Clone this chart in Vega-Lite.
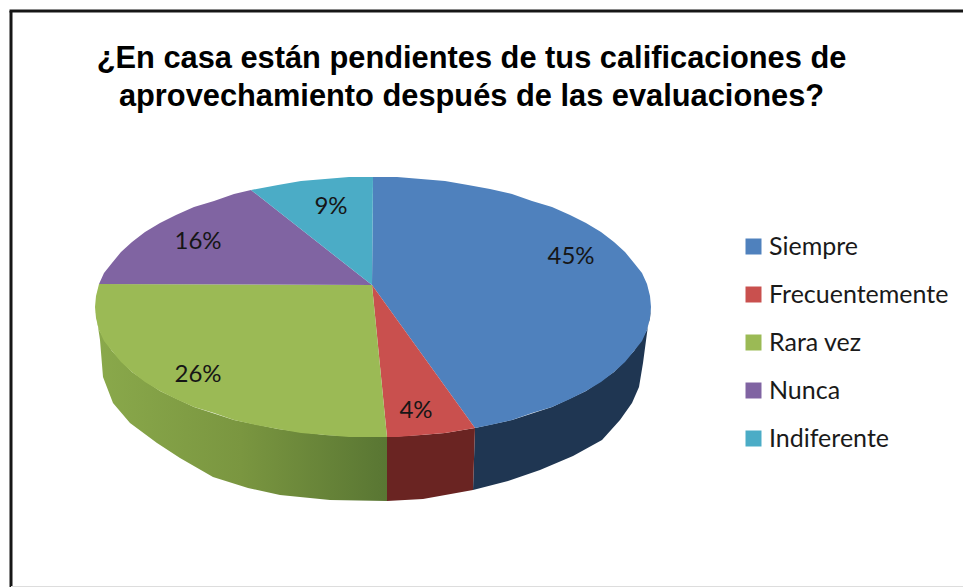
{"$schema":"https://vega.github.io/schema/vega-lite/v6.json","width":963,"height":587,"padding":0,"autosize":{"type":"none"},"background":"white","view":{"stroke":null},
"title":{"text":["¿En casa están pendientes de tus calificaciones de","aprovechamiento después de las evaluaciones?"],"font":"Liberation Sans","fontWeight":"bold","fontSize":30.8,"lineHeight":38.5,"color":"#000000","anchor":"middle","frame":"group","dx":-10,"dy":113,"offset":0},
"datasets":{
"faces":[
{"slice":"Siempre","order":1,"x":-1,"y":22},{"slice":"Siempre","order":2,"x":0,"y":130},{"slice":"Siempre","order":3,"x":24,"y":130},{"slice":"Siempre","order":4,"x":48,"y":128},{"slice":"Siempre","order":5,"x":72,"y":126},{"slice":"Siempre","order":6,"x":95,"y":122},{"slice":"Siempre","order":7,"x":117,"y":118},{"slice":"Siempre","order":8,"x":139,"y":113},{"slice":"Siempre","order":9,"x":159,"y":106},{"slice":"Siempre","order":10,"x":179,"y":100},{"slice":"Siempre","order":11,"x":197,"y":92},{"slice":"Siempre","order":12,"x":213,"y":84},{"slice":"Siempre","order":13,"x":228,"y":75},{"slice":"Siempre","order":14,"x":241,"y":65},{"slice":"Siempre","order":15,"x":252,"y":55},{"slice":"Siempre","order":16,"x":261,"y":44},{"slice":"Siempre","order":17,"x":269,"y":34},{"slice":"Siempre","order":18,"x":274,"y":23},{"slice":"Siempre","order":19,"x":277,"y":11},{"slice":"Siempre","order":20,"x":278,"y":0},{"slice":"Siempre","order":21,"x":277,"y":-11},{"slice":"Siempre","order":22,"x":274,"y":-23},{"slice":"Siempre","order":23,"x":269,"y":-34},{"slice":"Siempre","order":24,"x":261,"y":-44},{"slice":"Siempre","order":25,"x":252,"y":-55},{"slice":"Siempre","order":26,"x":241,"y":-65},{"slice":"Siempre","order":27,"x":228,"y":-75},{"slice":"Siempre","order":28,"x":213,"y":-84},{"slice":"Siempre","order":29,"x":197,"y":-92},{"slice":"Siempre","order":30,"x":179,"y":-100},{"slice":"Siempre","order":31,"x":159,"y":-106},{"slice":"Siempre","order":32,"x":139,"y":-113},{"slice":"Siempre","order":33,"x":117,"y":-118},{"slice":"Siempre","order":34,"x":102,"y":-121},
{"slice":"Frecuentemente","order":1,"x":-1,"y":22},{"slice":"Frecuentemente","order":2,"x":102,"y":-121},{"slice":"Frecuentemente","order":3,"x":72,"y":-126},{"slice":"Frecuentemente","order":4,"x":48,"y":-128},{"slice":"Frecuentemente","order":5,"x":24,"y":-130},{"slice":"Frecuentemente","order":6,"x":14,"y":-130},
{"slice":"Rara vez","order":1,"x":-1,"y":22},{"slice":"Rara vez","order":2,"x":14,"y":-130},{"slice":"Rara vez","order":3,"x":0,"y":-130},{"slice":"Rara vez","order":4,"x":-24,"y":-130},{"slice":"Rara vez","order":5,"x":-48,"y":-128},{"slice":"Rara vez","order":6,"x":-72,"y":-126},{"slice":"Rara vez","order":7,"x":-95,"y":-122},{"slice":"Rara vez","order":8,"x":-117,"y":-118},{"slice":"Rara vez","order":9,"x":-139,"y":-113},{"slice":"Rara vez","order":10,"x":-159,"y":-106},{"slice":"Rara vez","order":11,"x":-179,"y":-100},{"slice":"Rara vez","order":12,"x":-197,"y":-92},{"slice":"Rara vez","order":13,"x":-213,"y":-84},{"slice":"Rara vez","order":14,"x":-228,"y":-75},{"slice":"Rara vez","order":15,"x":-241,"y":-65},{"slice":"Rara vez","order":16,"x":-252,"y":-55},{"slice":"Rara vez","order":17,"x":-261,"y":-44},{"slice":"Rara vez","order":18,"x":-269,"y":-34},{"slice":"Rara vez","order":19,"x":-274,"y":-23},{"slice":"Rara vez","order":20,"x":-277,"y":-11},{"slice":"Rara vez","order":21,"x":-278,"y":0},{"slice":"Rara vez","order":22,"x":-277,"y":11},{"slice":"Rara vez","order":23,"x":-274,"y":23},
{"slice":"Nunca","order":1,"x":-1,"y":22},{"slice":"Nunca","order":2,"x":-274,"y":23},{"slice":"Nunca","order":3,"x":-269,"y":34},{"slice":"Nunca","order":4,"x":-261,"y":44},{"slice":"Nunca","order":5,"x":-252,"y":55},{"slice":"Nunca","order":6,"x":-241,"y":65},{"slice":"Nunca","order":7,"x":-228,"y":75},{"slice":"Nunca","order":8,"x":-213,"y":84},{"slice":"Nunca","order":9,"x":-197,"y":92},{"slice":"Nunca","order":10,"x":-179,"y":100},{"slice":"Nunca","order":11,"x":-159,"y":106},{"slice":"Nunca","order":12,"x":-139,"y":113},{"slice":"Nunca","order":13,"x":-122,"y":117},
{"slice":"Indiferente","order":1,"x":-1,"y":22},{"slice":"Indiferente","order":2,"x":-122,"y":117},{"slice":"Indiferente","order":3,"x":-95,"y":122},{"slice":"Indiferente","order":4,"x":-72,"y":126},{"slice":"Indiferente","order":5,"x":-48,"y":128},{"slice":"Indiferente","order":6,"x":-24,"y":130},{"slice":"Indiferente","order":7,"x":0,"y":130}
],
"walls":[
{"wall":"Siempre","order":1,"x":278,"y":0},{"wall":"Siempre","order":2,"x":277,"y":-11},{"wall":"Siempre","order":3,"x":274,"y":-23},{"wall":"Siempre","order":4,"x":261,"y":-44},{"wall":"Siempre","order":5,"x":241,"y":-65},{"wall":"Siempre","order":6,"x":213,"y":-84},{"wall":"Siempre","order":7,"x":179,"y":-100},{"wall":"Siempre","order":8,"x":139,"y":-113},{"wall":"Siempre","order":9,"x":102,"y":-121},{"wall":"Siempre","order":10,"x":100,"y":-183},{"wall":"Siempre","order":11,"x":135,"y":-174},{"wall":"Siempre","order":12,"x":167,"y":-163},{"wall":"Siempre","order":13,"x":200,"y":-149},{"wall":"Siempre","order":14,"x":229,"y":-133},{"wall":"Siempre","order":15,"x":247,"y":-113},{"wall":"Siempre","order":16,"x":259,"y":-96},{"wall":"Siempre","order":17,"x":266,"y":-80},{"wall":"Siempre","order":18,"x":270,"y":-56},{"wall":"Siempre","order":19,"x":274,"y":-26},
{"wall":"Frecuentemente","order":1,"x":102,"y":-121},{"wall":"Frecuentemente","order":2,"x":72,"y":-126},{"wall":"Frecuentemente","order":3,"x":48,"y":-128},{"wall":"Frecuentemente","order":4,"x":14,"y":-130},{"wall":"Frecuentemente","order":5,"x":14,"y":-194},{"wall":"Frecuentemente","order":6,"x":50,"y":-192},{"wall":"Frecuentemente","order":7,"x":100,"y":-183},
{"wall":"Rara vez","order":1,"x":14,"y":-130},{"wall":"Rara vez","order":2,"x":0,"y":-130},{"wall":"Rara vez","order":3,"x":-48,"y":-128},{"wall":"Rara vez","order":4,"x":-95,"y":-122},{"wall":"Rara vez","order":5,"x":-139,"y":-113},{"wall":"Rara vez","order":6,"x":-179,"y":-100},{"wall":"Rara vez","order":7,"x":-213,"y":-84},{"wall":"Rara vez","order":8,"x":-241,"y":-65},{"wall":"Rara vez","order":9,"x":-261,"y":-44},{"wall":"Rara vez","order":10,"x":-274,"y":-23},{"wall":"Rara vez","order":11,"x":-278,"y":0},{"wall":"Rara vez","order":12,"x":-273,"y":-33},{"wall":"Rara vez","order":13,"x":-270,"y":-70},{"wall":"Rara vez","order":14,"x":-260,"y":-96},{"wall":"Rara vez","order":15,"x":-243,"y":-116},{"wall":"Rara vez","order":16,"x":-216,"y":-136},{"wall":"Rara vez","order":17,"x":-193,"y":-151},{"wall":"Rara vez","order":18,"x":-160,"y":-170},{"wall":"Rara vez","order":19,"x":-125,"y":-181},{"wall":"Rara vez","order":20,"x":-93,"y":-188},{"wall":"Rara vez","order":21,"x":-43,"y":-193},{"wall":"Rara vez","order":22,"x":14,"y":-194}
],
"labels":[
{"slice":"Siempre","value":45,"label":"45%","x":198,"y":50},{"slice":"Frecuentemente","value":4,"label":"4%","x":43,"y":-104},{"slice":"Rara vez","value":26,"label":"26%","x":-175,"y":-68},{"slice":"Nunca","value":16,"label":"16%","x":-175,"y":65},{"slice":"Indiferente","value":9,"label":"9%","x":-42,"y":100}
]},
"layer":[
{"data":{"values":[{"edge":"left","x":-362,"y":296,"y2":-280}]},"mark":{"type":"rule","color":"#161616","strokeWidth":3},"encoding":{"x":{"field":"x","type":"quantitative","scale":{"domain":[-373,590]},"axis":null},"y":{"field":"y","type":"quantitative","scale":{"domain":[-280,307]},"axis":null},"y2":{"field":"y2"}}},
{"data":{"values":[{"edge":"top","y":296,"x":-363.5,"x2":590}]},"mark":{"type":"rule","color":"#161616","strokeWidth":3},"encoding":{"y":{"field":"y","type":"quantitative","scale":{"domain":[-280,307]},"axis":null},"x":{"field":"x","type":"quantitative","scale":{"domain":[-373,590]},"axis":null},"x2":{"field":"x2"}}},
{"data":{"values":[{"edge":"bottom","y":-279.5,"x":-362,"x2":590}]},"mark":{"type":"rule","color":"#dddddd","strokeWidth":1},"encoding":{"y":{"field":"y","type":"quantitative","scale":{"domain":[-280,307]},"axis":null},"x":{"field":"x","type":"quantitative","scale":{"domain":[-373,590]},"axis":null},"x2":{"field":"x2"}}},
{"data":{"name":"walls"},"transform":[{"filter":"datum.wall==='Siempre'"}],"mark":{"type":"line","fill":"#1f3652","stroke":null},"encoding":{"x":{"field":"x","type":"quantitative","scale":{"domain":[-373,590]},"axis":null},"y":{"field":"y","type":"quantitative","scale":{"domain":[-280,307]},"axis":null},"order":{"field":"order","type":"quantitative"}}},
{"data":{"name":"walls"},"transform":[{"filter":"datum.wall==='Frecuentemente'"}],"mark":{"type":"line","fill":"#6a2422","stroke":null},"encoding":{"x":{"field":"x","type":"quantitative","scale":{"domain":[-373,590]},"axis":null},"y":{"field":"y","type":"quantitative","scale":{"domain":[-280,307]},"axis":null},"order":{"field":"order","type":"quantitative"}}},
{"data":{"name":"walls"},"transform":[{"filter":"datum.wall==='Rara vez'"}],"mark":{"type":"line","fill":{"gradient":"linear","x1":0,"x2":1,"y1":0,"y2":0,"stops":[{"offset":0,"color":"#8aa94b"},{"offset":0.5,"color":"#7a9640"},{"offset":1,"color":"#597633"}]},"stroke":null},"encoding":{"x":{"field":"x","type":"quantitative","scale":{"domain":[-373,590]},"axis":null},"y":{"field":"y","type":"quantitative","scale":{"domain":[-280,307]},"axis":null},"order":{"field":"order","type":"quantitative"}}},
{"data":{"name":"faces"},"mark":{"type":"line","stroke":null},"encoding":{"x":{"field":"x","type":"quantitative","scale":{"domain":[-373,590]},"axis":null},"y":{"field":"y","type":"quantitative","scale":{"domain":[-280,307]},"axis":null},"order":{"field":"order","type":"quantitative"},"fill":{"field":"slice","type":"nominal","scale":{"domain":["Siempre","Frecuentemente","Rara vez","Nunca","Indiferente"],"range":["#4f81bd","#c9504e","#9bba55","#8064a2","#4bacc6"]},"legend":{"title":null,"orient":"none","legendX":741,"legendY":234,"symbolType":"square","symbolSize":256,"symbolStrokeWidth":0,"labelFont":"Lato","labelFontSize":25,"labelColor":"#1a1a1a","labelLimit":300,"rowPadding":22,"labelOffset":3}}}},
{"data":{"name":"labels"},"mark":{"type":"text","font":"Lato","fontSize":24,"color":"#161616","align":"center","baseline":"middle"},"encoding":{"x":{"field":"x","type":"quantitative","scale":{"domain":[-373,590]},"axis":null},"y":{"field":"y","type":"quantitative","scale":{"domain":[-280,307]},"axis":null},"text":{"field":"label","type":"nominal"}}}
]}
